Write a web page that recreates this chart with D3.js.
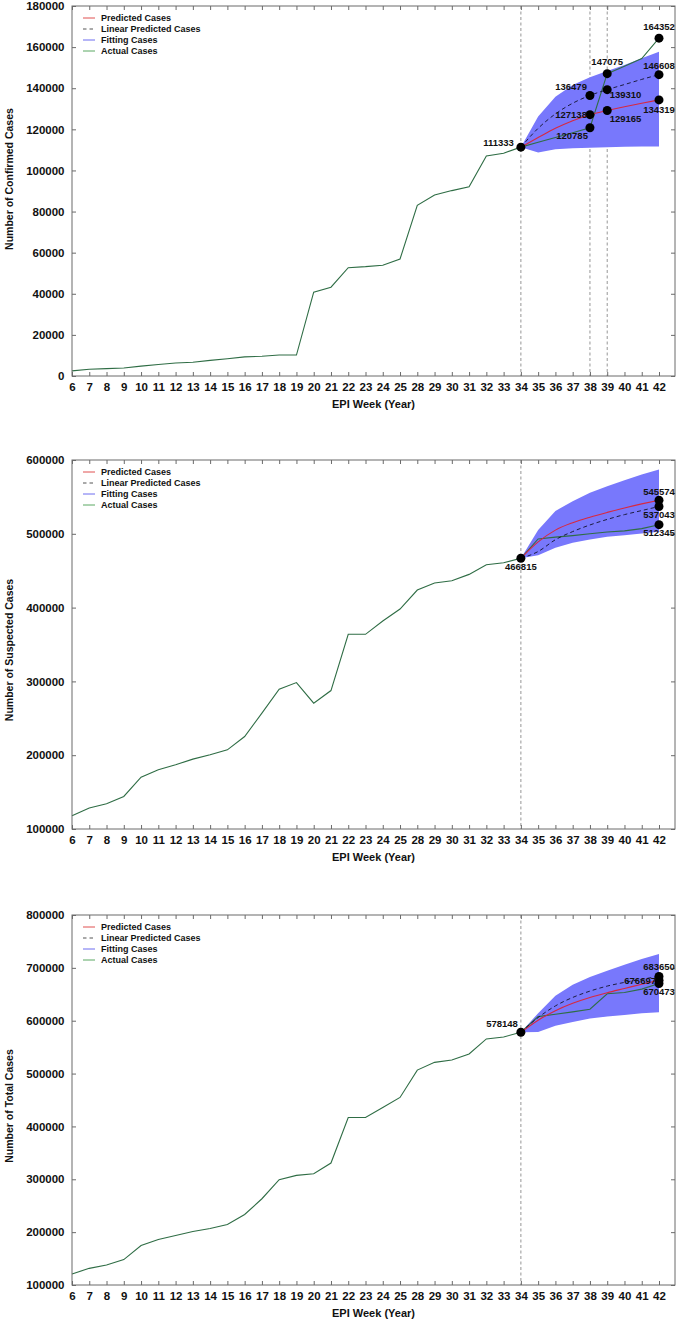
<!DOCTYPE html>
<html>
<head>
<meta charset="utf-8">
<script src="https://cdn.jsdelivr.net/npm/d3@7"></script>
<style>
  html, body { margin: 0; padding: 0; background: #fff; }
  svg { display: block; font-family: "Liberation Sans", Arial, Helvetica, sans-serif; }
</style>
</head>
<body>
<svg id="chart" width="679" height="1322"></svg>
<script>
// ---------------- DATA ----------------
const weeks = ["6","7","8","9","10","11","12","13","14","15","16","17","18","19","20","21","22","23","24","25",
               "28","29","30","31","32","33","34","35","36","37","38","39","40","41","42"];
const forecastWeeks = ["34","35","36","37","38","39","40","41","42"];
const seriesNames = ["Predicted Cases", "Linear Predicted Cases", "Fitting Cases", "Actual Cases"];

// Confirmed cases
const confirmedActual = [2500, 3300, 3600, 3900, 4800, 5600, 6300, 6700, 7600, 8400, 9300, 9600, 10200, 10200,
  40800, 43200, 52700, 53200, 53900, 56900, 83000, 88100, 90200, 92100, 107000, 108400, 111333,
  113700, 116000, 118300, 120785, 147075, 150700, 154400, 164352];
const confirmedPredicted = [111333, 116000, 120500, 124200, 127138, 129165, 131000, 132700, 134319];
const confirmedLinear    = [111333, 120500, 127500, 132700, 136479, 139310, 141800, 144300, 146608];
const confirmedFitHigh   = [111333, 126200, 135900, 141600, 145300, 148400, 151300, 154600, 157800];
const confirmedFitLow    = [111333, 108700, 110300, 110800, 111100, 111300, 111500, 111600, 111600];
const confirmedMarkWeeks  = ["34","38","38","38","39","39","39","42","42","42"];
const confirmedMarkValues = [111333, 136479, 127138, 120785, 147075, 139310, 129165, 164352, 146608, 134319];
const confirmedGuides = ["34","38","39"];
const confirmedTicks = [0, 20000, 40000, 60000, 80000, 100000, 120000, 140000, 160000, 180000];

// Suspected cases
const suspectedActual = [118000, 128400, 134200, 144100, 170300, 180200, 187000, 194700, 200500, 207300, 225300,
  257000, 289400, 298400, 270500, 287600, 363800, 363800, 381900, 398100, 423800, 433300, 436400, 445000,
  458100, 460800, 466815, 493000, 495500, 497500, 500000, 502500, 504000, 507000, 512345];
const suspectedPredicted = [466815, 489000, 505000, 515000, 522500, 529000, 535000, 540500, 545574];
const suspectedLinear    = [466815, 476000, 492000, 503000, 512000, 519500, 526000, 531500, 537043];
const suspectedFitHigh   = [466815, 505000, 531000, 544000, 555500, 564500, 572700, 580400, 587200];
const suspectedFitLow    = [466815, 471000, 481000, 488000, 492400, 496000, 498200, 500500, 502700];
const suspectedMarkWeeks  = ["34","42","42","42"];
const suspectedMarkValues = [466815, 545574, 537043, 512345];
const suspectedGuides = ["34"];
const suspectedTicks = [100000, 200000, 300000, 400000, 500000, 600000];

// Total cases
const totalActual = [120900, 131500, 137900, 148000, 174600, 186000, 193500, 201100, 206800, 214400, 233400,
  263200, 299200, 307400, 310600, 330800, 416900, 416900, 435900, 454800, 506600, 521200, 525600, 537000,
  565500, 569300, 578148, 607800, 612300, 616700, 621800, 650900, 653300, 659800, 670473];
const totalPredicted = [578148, 601000, 619000, 633000, 644000, 653000, 661000, 669000, 676697];
const totalLinear    = [578148, 606000, 628000, 644000, 656000, 665500, 672500, 678500, 683650];
const totalFitHigh   = [578148, 614200, 647000, 667900, 682500, 694500, 705900, 716700, 726200];
const totalFitLow    = [578148, 578700, 590700, 597700, 604000, 607800, 611000, 614200, 616100];
const totalMarkWeeks  = ["34","42","42","42"];
const totalMarkValues = [578148, 683650, 676697, 670473];
const totalGuides = ["34"];
const totalTicks = [100000, 200000, 300000, 400000, 500000, 600000, 700000, 800000];

const yTitles = ["Number of Confirmed Cases", "Number of Suspected Cases", "Number of Total Cases"];
const xTitle = "EPI Week (Year)";

// ---------------- LAYOUT / STYLE ----------------
const colors = { pred: "#d8283f", linear: "#1c1c40", fit: "#7878fc", actual: "#2f6d45",
                 legPred: "#e05050", legLinear: "#555", legFit: "#6c6cf0", legActual: "#5aa862" };

// label placement for marks: [text-anchor, dx, dy]
const confirmedLabelPos = [["end",-7,-1.5],["end",-3,-5],["end",-3,3.5],["end",-2,11.7],["middle",0,-8.3],
  ["start",2.5,8],["start",2.5,11.6],["middle",0,-8],["middle",0,-5.5],["middle",0,13.5]];
const suspectedLabelPos = [["middle",0,12],["middle",0,-5.5],["middle",0,12],["middle",0,11.7]];
const totalLabelPos = [["end",-3,-5],["middle",0,-6.5],["end",-3,3.5],["middle",0,12]];

const panels = [
  { top: 6, bottom: 376, domain: [0, 180000], ticks: confirmedTicks, actual: confirmedActual,
    pred: confirmedPredicted, linear: confirmedLinear, hi: confirmedFitHigh, lo: confirmedFitLow,
    markW: confirmedMarkWeeks, markV: confirmedMarkValues, labelPos: confirmedLabelPos,
    guides: confirmedGuides, yTitle: yTitles[0], yTitleY: 179 },
  { top: 460, bottom: 829, domain: [100000, 600000], ticks: suspectedTicks, actual: suspectedActual,
    pred: suspectedPredicted, linear: suspectedLinear, hi: suspectedFitHigh, lo: suspectedFitLow,
    markW: suspectedMarkWeeks, markV: suspectedMarkValues, labelPos: suspectedLabelPos,
    guides: suspectedGuides, yTitle: yTitles[1], yTitleY: 650 },
  { top: 915, bottom: 1285, domain: [100000, 800000], ticks: totalTicks, actual: totalActual,
    pred: totalPredicted, linear: totalLinear, hi: totalFitHigh, lo: totalFitLow,
    markW: totalMarkWeeks, markV: totalMarkValues, labelPos: totalLabelPos,
    guides: totalGuides, yTitle: yTitles[2], yTitleY: 1106 }
];

const left = 72, right = 675;
const x = d3.scalePoint().domain(weeks).range([left, 659]);
const svg = d3.select("#chart");

panels.forEach(p => {
  const y = d3.scaleLinear().domain(p.domain).range([p.bottom, p.top]);
  const g = svg.append("g");

  // guides
  g.selectAll(".guide").data(p.guides).join("line")
    .attr("x1", d => x(d)).attr("x2", d => x(d))
    .attr("y1", p.top).attr("y2", p.bottom)
    .attr("stroke", "#8a8a8a").attr("stroke-width", 0.9).attr("stroke-dasharray", "3,2.5");

  // band
  const fc = forecastWeeks.map((w, i) => ({ w, hi: p.hi[i], lo: p.lo[i], pred: p.pred[i], lin: p.linear[i] }));
  g.append("path").datum(fc)
    .attr("d", d3.area().x(d => x(d.w)).y0(d => y(d.lo)).y1(d => y(d.hi)))
    .attr("fill", colors.fit);

  // actual
  g.append("path").datum(weeks.map((w, i) => ({ w, v: p.actual[i] })))
    .attr("d", d3.line().x(d => x(d.w)).y(d => y(d.v)))
    .attr("fill", "none").attr("stroke", colors.actual).attr("stroke-width", 1.1);

  // predicted
  g.append("path").datum(fc)
    .attr("d", d3.line().curve(d3.curveMonotoneX).x(d => x(d.w)).y(d => y(d.pred)))
    .attr("fill", "none").attr("stroke", colors.pred).attr("stroke-width", 1.1);

  // linear predicted
  g.append("path").datum(fc)
    .attr("d", d3.line().curve(d3.curveMonotoneX).x(d => x(d.w)).y(d => y(d.lin)))
    .attr("fill", "none").attr("stroke", colors.linear).attr("stroke-width", 1)
    .attr("stroke-dasharray", "4,3");

  // frame
  g.append("rect").attr("x", left).attr("y", p.top).attr("width", right - left).attr("height", p.bottom - p.top)
    .attr("fill", "none").attr("stroke", "#6a6a6a").attr("stroke-width", 1);

  // axes (inward ticks)
  const axB = g.append("g").attr("transform", `translate(0,${p.bottom})`)
    .call(d3.axisBottom(x).tickSize(-4).tickPadding(7));
  const axT = g.append("g").attr("transform", `translate(0,${p.top})`)
    .call(d3.axisTop(x).tickSize(-4).tickFormat(""));
  const axL = g.append("g").attr("transform", `translate(${left},0)`)
    .call(d3.axisLeft(y).tickValues(p.ticks).tickSize(-4).tickPadding(7).tickFormat(d3.format("d")));
  const axR = g.append("g").attr("transform", `translate(${right},0)`)
    .call(d3.axisRight(y).tickValues(p.ticks).tickSize(-4).tickFormat(""));
  [axB, axT, axL, axR].forEach(a => {
    a.select(".domain").remove();
    a.selectAll(".tick line").attr("stroke", "#6a6a6a");
    a.selectAll("text").attr("fill", "#111").attr("font-size", "11.5px").attr("font-weight", "bold")
      .attr("font-family", "'Liberation Sans', Arial, sans-serif");
  });
  axL.selectAll("text").attr("dx", "-0.5");

  // marks
  const marks = p.markW.map((w, i) => ({ w, v: p.markV[i], pos: p.labelPos[i] }));
  g.selectAll(".mark").data(marks).join("circle")
    .attr("cx", d => x(d.w)).attr("cy", d => y(d.v)).attr("r", 4.5).attr("fill", "#000");
  g.selectAll(".mlabel").data(marks).join("text")
    .attr("x", d => x(d.w) + d.pos[1]).attr("y", d => y(d.v) + d.pos[2])
    .attr("text-anchor", d => d.pos[0])
    .attr("font-size", "9.5px").attr("font-weight", "bold").attr("fill", "#111")
    .text(d => d.v);

  // legend
  const legColors = [colors.legPred, colors.legLinear, colors.legFit, colors.legActual];
  const leg = g.append("g").attr("transform", `translate(${left},${p.top + 12})`);
  seriesNames.forEach((name, i) => {
    const row = leg.append("g").attr("transform", `translate(0,${i * 11})`);
    row.append("line").attr("x1", 11).attr("x2", 23).attr("y1", 0).attr("y2", 0)
      .attr("stroke", legColors[i]).attr("stroke-width", 1)
      .attr("stroke-dasharray", i === 1 ? "3.5,3" : null);
    row.append("text").attr("x", 29).attr("y", 3.3)
      .attr("font-size", "9px").attr("font-weight", "bold").attr("fill", "#111").text(name);
  });

  // titles
  g.append("text").attr("x", (left + right) / 2).attr("y", p.bottom + 32)
    .attr("text-anchor", "middle").attr("font-size", "11px").attr("font-weight", "bold").attr("fill", "#111")
    .text(xTitle);
  g.append("text").attr("transform", `translate(13,${p.yTitleY}) rotate(-90)`)
    .attr("text-anchor", "middle").attr("font-size", "10.5px").attr("font-weight", "bold").attr("fill", "#111")
    .text(p.yTitle);
});
</script>
</body>
</html>
